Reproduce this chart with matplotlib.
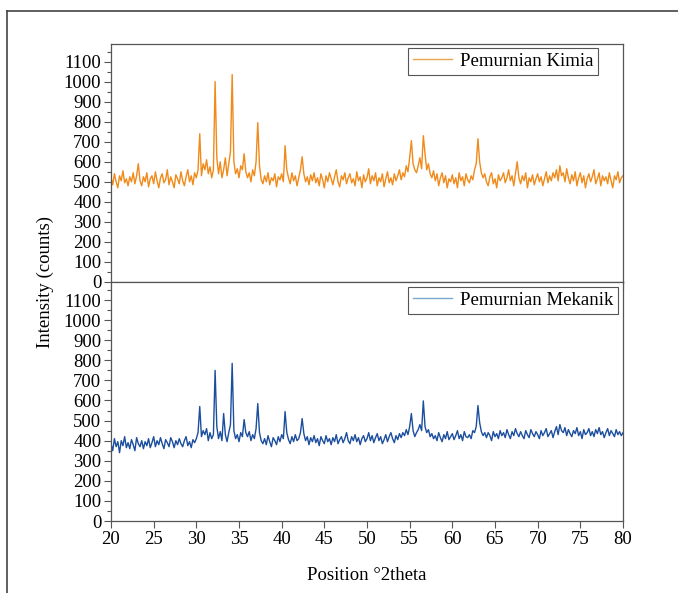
import numpy as np
import matplotlib
matplotlib.use("Agg")
import matplotlib.pyplot as plt
from matplotlib.lines import Line2D
from matplotlib.ticker import MultipleLocator

plt.rcParams["font.family"] = ["Liberation Serif", "DejaVu Serif"]

# ---- DATA (2theta from 20 to 80, step 0.2) ----
X_MIN, X_MAX, X_STEP = 20.0, 80.0, 0.2

kimia = [
    520, 485, 540, 500, 470, 530, 505, 555, 495, 515,
    480, 525, 500, 545, 490, 530, 590, 505, 480, 525,
    500, 545, 475, 515, 530, 490, 550, 505, 470, 520,
    540, 495, 510, 560, 485, 525, 500, 470, 535, 515,
    490, 550, 505, 480, 525, 560, 500, 530, 485, 545,
    520, 560, 740, 530, 590, 560, 610, 540, 575, 520,
    560, 1000, 620, 540, 600, 520, 560, 620, 530, 590,
    650, 1035, 600, 540, 565, 520, 580, 560, 640, 550,
    520, 545, 500, 560, 530, 600, 795, 580, 510, 490,
    530, 500, 545, 485, 520, 505, 540, 475, 525, 510,
    540, 500, 680, 560, 520, 490, 545, 505, 530, 480,
    520, 560, 625, 540, 500, 525, 485, 535, 505, 545,
    495, 520, 480, 540, 510, 470, 530, 500, 545, 515,
    485, 525, 560, 500, 475, 530, 510, 545, 490, 520,
    540, 495, 515, 480, 550, 505, 525, 470, 535, 500,
    520, 565, 490, 530, 505, 545, 480, 520, 500, 540,
    475, 515, 550, 495, 520, 485, 540, 505, 530, 560,
    510, 545, 525, 580, 550, 620, 705, 590, 560, 545,
    580, 620, 565, 730, 640, 560, 590, 540, 520, 555,
    505, 540, 480, 520, 545, 495, 530, 470, 515, 500,
    535, 490, 520, 470, 545, 505, 525, 480, 540, 510,
    495, 530, 510, 560, 590, 715, 600, 545, 520, 540,
    500, 480, 525, 545, 490, 515, 470, 535, 505, 520,
    545, 495, 520, 560, 505, 530, 480, 540, 600, 520,
    490, 530, 505, 545, 470, 520, 500, 535, 485, 515,
    540, 500, 525, 480, 515, 550, 495, 530, 505, 545,
    520, 560, 505, 580, 530, 545, 500, 565, 520, 490,
    535, 505, 550, 480, 520, 545, 495, 530, 470, 515,
    540, 500, 525, 560, 490, 515, 545, 480, 530, 505,
    525, 490, 545, 505, 470, 530, 510, 550, 495, 520,
    530,
]

mekanik = [
    385, 350, 410, 370, 395, 340, 400, 375, 420, 365,
    390, 360, 405, 380, 350, 415, 385, 370, 400, 360,
    395, 375, 410, 365, 390, 420, 370, 400, 380, 415,
    385, 360, 405, 390, 370, 415, 395, 365, 400, 380,
    410, 385, 370, 400, 420, 375, 395, 365, 405, 390,
    410, 440, 570, 420, 450, 430, 460, 400, 440, 410,
    430, 750, 470, 410, 445, 400, 535, 430, 395, 440,
    480, 785, 450, 410, 430, 395, 440, 420, 505, 440,
    420, 445, 400, 430, 410, 460, 585, 440, 400, 385,
    410, 380, 425, 395, 370, 415, 400, 380, 420, 395,
    430, 410, 545, 440, 405, 385, 420, 395, 430, 400,
    410, 440, 510, 435, 400, 420, 380, 415, 395, 425,
    390, 410, 375, 420, 400, 385, 425, 395, 410, 380,
    415, 395, 430, 385, 405, 420, 390, 410, 440, 400,
    385, 420, 400, 430, 395, 415, 380, 410, 425, 395,
    410, 440, 400, 425, 390, 415, 435, 400, 420, 385,
    405, 430, 395, 420, 440, 410, 390, 425, 405, 435,
    415, 440, 425, 455, 430, 470, 535, 450, 420, 440,
    455, 480, 450, 598, 470, 440, 455, 420, 435, 410,
    425, 400, 440, 415, 395, 430, 410, 445, 405, 420,
    435, 405, 425, 450, 410, 430, 400, 445, 420, 415,
    430, 410, 450, 440, 470, 575, 490, 445, 425, 440,
    415, 440, 425, 400, 445, 420, 435, 410, 450, 425,
    440, 415, 455, 430, 410, 445, 425, 460, 435, 420,
    445, 425, 410, 450, 430, 415, 455, 435, 420, 445,
    430, 410, 450, 425, 440, 460, 420, 435, 450, 415,
    445, 470, 430, 480, 450, 440, 465, 425, 455, 435,
    420, 450, 435, 465, 425, 445, 410, 455, 430, 440,
    460, 425, 445, 420, 455, 435, 465, 430, 445, 415,
    440, 460, 425, 450, 435, 420, 455, 430, 445, 425,
    440,
]

labels = ["Pemurnian Kimia", "Pemurnian Mekanik"]
colors = ["#F08A1A", "#1C4E9E"]
legend_colors = ["#E8A650", "#7FA6D0"]

x = np.linspace(X_MIN, X_MAX, len(kimia))

W, H = 678, 593
fig = plt.figure(figsize=(W / 100, H / 100), dpi=100)

def fx(px):
    return px / W

def fy(py):
    return 1 - py / H

left, right = 111, 623
ax1 = fig.add_axes([fx(left), fy(282), fx(right) - fx(left), fy(43.5) - fy(282)])
ax2 = fig.add_axes([fx(left), fy(521), fx(right) - fx(left), fy(282) - fy(521)])

spine_c = "#555555"
anchors = [(0.951, 0.981), (0.990, 0.979)]
for ax, y, c, lc, lab, anc in zip([ax1, ax2], [kimia, mekanik], colors,
                                   legend_colors, labels, anchors):
    ax.plot(x, y, color=c, lw=1.0)
    ax.set_xlim(X_MIN, X_MAX)
    ax.set_ylim(0, 1190)
    ax.yaxis.set_major_locator(MultipleLocator(100))
    ax.yaxis.set_minor_locator(MultipleLocator(50))
    ax.xaxis.set_major_locator(MultipleLocator(5))
    ax.tick_params(axis="both", which="major", direction="out", length=5,
                   width=0.8, color=spine_c, labelsize=13.5, pad=2)
    ax.tick_params(axis="y", which="minor", direction="out", length=3,
                   width=0.8, color=spine_c)
    for s in ax.spines.values():
        s.set_color(spine_c)
        s.set_linewidth(0.9)
    h = Line2D([], [], color=lc, lw=1.0)
    leg = ax.legend([h], [lab], loc="upper right", bbox_to_anchor=anc,
                    borderaxespad=0, fontsize=13.5, handlelength=2.1,
                    handletextpad=0.4, borderpad=0.25, fancybox=False,
                    framealpha=1)
    leg.get_frame().set_edgecolor("#555555")
    leg.get_frame().set_linewidth(0.8)

ax1.tick_params(axis="x", labelbottom=False)

fig.text(fx(45), fy(282), "Intensity (counts)", rotation=90, ha="center",
         va="center", fontsize=13.5)
fig.text(fx(367), fy(575), "Position \u00b02theta", ha="center", va="center",
         fontsize=13.5)

# outer frame (left and top edges visible)
fig.add_artist(Line2D([fx(7), fx(7)], [0, fy(11)], color="#444444", lw=1.2))
fig.add_artist(Line2D([fx(7), 1], [fy(11), fy(11)], color="#444444", lw=1.2))

fig.savefig("out.png", dpi=100)
